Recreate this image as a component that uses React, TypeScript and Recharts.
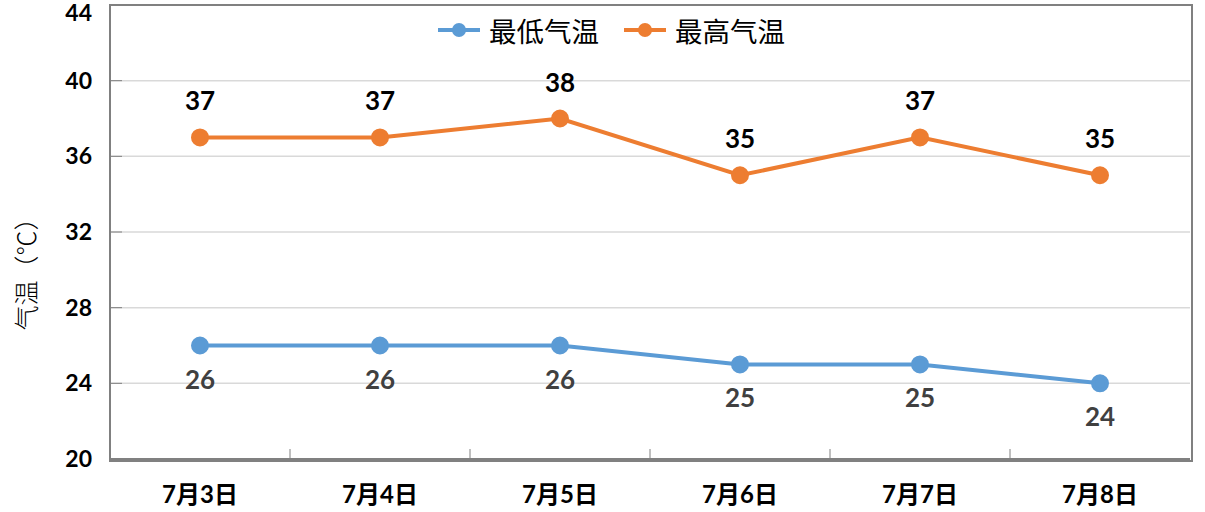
import React from "react"
import { LineChart, Line, XAxis, YAxis, CartesianGrid, LabelList } from "recharts"

const days = ["7月3日", "7月4日", "7月5日", "7月6日", "7月7日", "7月8日"]
const minTemp = [26, 26, 26, 25, 25, 24]
const maxTemp = [37, 37, 38, 35, 37, 35]
const yTicks = [20, 24, 28, 32, 36, 40, 44]

const data = days.map((day, i) => ({ day, low: minTemp[i], high: maxTemp[i] }))

const numFont = "Lato, 'Noto Sans CJK SC', sans-serif"
const cjkFont = "'Noto Sans CJK SC', serif"

const series = [
  { key: "low", name: "最低气温", color: "#5B9BD5" },
  { key: "high", name: "最高气温", color: "#ED7D31" },
]

function DayTick(props: any) {
  const { x, y, payload, index, width, visibleTicksCount } = props
  const step = width / visibleTicksCount
  return (
    <g>
      {index < visibleTicksCount - 1 && (
        <line x1={x + step / 2} x2={x + step / 2} y1={y} y2={y - 12} stroke="#808080" strokeWidth={1} />
      )}
      <text x={x} y={y + 42} textAnchor="middle" fontFamily={numFont} fontWeight={700} fontSize={24} fill="#000">
        {payload.value}
      </text>
    </g>
  )
}

function TopLabel(props: any) {
  const { x, y, value } = props
  return (
    <text x={x} y={y - 27} textAnchor="middle" fontFamily={numFont} fontWeight={700} fontSize={26} fill="#000">
      {value}
    </text>
  )
}

function BottomLabel(props: any) {
  const { x, y, value } = props
  return (
    <text x={x} y={y + 43} textAnchor="middle" fontFamily={numFont} fontWeight={700} fontSize={26} fill="#404040">
      {value}
    </text>
  )
}

function AxisTitle(props: any) {
  const { viewBox } = props
  const cx = 25
  const cy = viewBox.y + viewBox.height / 2 + 36
  return (
    <text
      x={cx}
      y={cy}
      transform={`rotate(-90, ${cx}, ${cy})`}
      textAnchor="middle"
      dominantBaseline="central"
      fontFamily={cjkFont}
      fontWeight={300}
      fontSize={25}
      fill="#000"
    >
      气温（℃）
    </text>
  )
}

function LegendBox() {
  return (
    <div
      style={{
        position: "absolute",
        left: 437,
        top: 14,
        display: "flex",
        gap: 24,
        fontFamily: cjkFont,
        fontSize: 27.5,
        lineHeight: "32px",
        color: "#000",
        pointerEvents: "none",
        whiteSpace: "nowrap",
      }}
    >
      {series.map((it) => (
        <div key={it.name} style={{ display: "flex", alignItems: "center" }}>
          <svg width={44} height={16} style={{ marginRight: 8 }}>
            <line x1={1} x2={43} y1={8} y2={8} stroke={it.color} strokeWidth={4} />
            <circle cx={22} cy={8} r={7} fill={it.color} />
          </svg>
          <span>{it.name}</span>
        </div>
      ))}
    </div>
  )
}

export default function App() {
  return (
    <div style={{ position: "absolute", left: 0, top: 0, width: 1205, height: 512, background: "#fff" }}>
      <LineChart width={1205} height={512} data={data} margin={{ top: 5, right: 15, bottom: 0, left: 0 }}>
        <CartesianGrid vertical={false} horizontal={true} stroke="#d9d9d9" strokeWidth={1.5} />
        <XAxis
          dataKey="day"
          scale="band"
          height={53}
          tickSize={0}
          tickLine={false}
          tick={<DayTick />}
          axisLine={{ stroke: "#808080", strokeWidth: 2 }}
          interval={0}
        />
        <YAxis
          domain={[20, 44]}
          ticks={yTicks}
          width={110}
          tickSize={-12}
          tickMargin={30}
          tickLine={{ stroke: "#808080" }}
          axisLine={{ stroke: "#808080", strokeWidth: 2 }}
          tick={{ fontFamily: numFont, fontWeight: 700, fontSize: 23, fill: "#000" }}
          label={<AxisTitle />}
        />
        {series.map((s) => (
          <Line
            key={s.key}
            dataKey={s.key}
            name={s.name}
            stroke={s.color}
            strokeWidth={4}
            dot={{ r: 7, fill: s.color, stroke: s.color }}
            isAnimationActive={false}
          >
            <LabelList dataKey={s.key} content={s.key === "high" ? <TopLabel /> : <BottomLabel />} />
          </Line>
        ))}
      </LineChart>
      <div
        style={{
          position: "absolute",
          left: 109,
          top: 4,
          width: 1080,
          height: 454,
          border: "2px solid #808080",
          pointerEvents: "none",
        }}
      />
      <LegendBox />
    </div>
  )
}
